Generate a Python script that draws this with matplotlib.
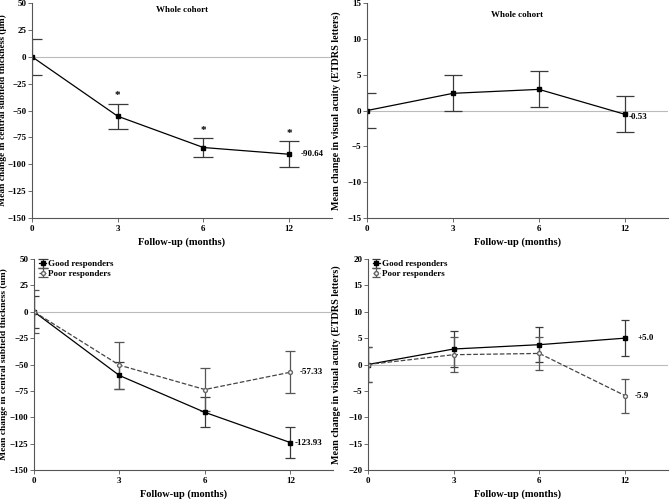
import matplotlib
matplotlib.use("Agg")
import matplotlib.pyplot as plt
import numpy as np

plt.rcParams['font.family'] = ['Liberation Serif', 'DejaVu Serif']
plt.rcParams['font.weight'] = 'bold'

timepoints = ["0", "3", "6", "12"]

# Whole cohort - CST
cst_mean = [0, -55.3, -84.4, -90.64]
cst_err = [16.5, 11.7, 9.0, 12.1]
# Whole cohort - VA
va_mean = [0, 2.4, 2.95, -0.53]
va_err = [2.5, 2.5, 2.5, 2.5]

# Responder groups - CST
cst_good = [0, -60.4, -95.3, -123.93]
cst_good_err = [15.3, 12.4, 14.3, 14.3]
cst_poor = [0, -50.6, -73.7, -57.33]
cst_poor_err = [20.3, 22.2, 20.0, 20.0]
# Responder groups - VA
va_good = [0, 2.94, 3.76, 5.0]
va_good_err = [3.3, 3.35, 3.3, 3.35]
va_poor = [0, 1.86, 2.1, -5.9]
va_poor_err = [3.3, 3.3, 3.2, 3.25]

xlabel = "Follow-up (months)"
cst_ylabel1 = "Mean change in central subfield thickness (\u03bcm)"
cst_ylabel2 = "Mean change in central subfield thickness (um)"
va_ylabel = "Mean change in visual acuity (ETDRS letters)"

fig = plt.figure(figsize=(6.70, 4.99), dpi=100)
ax1 = fig.add_axes([0.0478, 0.563, 0.4477, 0.431])
ax2 = fig.add_axes([0.5478, 0.563, 0.4492, 0.431])
ax3 = fig.add_axes([0.0507, 0.058, 0.4463, 0.423])
ax4 = fig.add_axes([0.549, 0.058, 0.448, 0.423])

x = np.arange(len(timepoints))
ecol = '#3a3a3a'
FS = 6.5

def style(ax, ylim, step, ylabel, labx, lfs):
    ax.set_xlim(0, 3.5)
    ax.set_ylim(*ylim)
    ax.set_yticks(np.arange(ylim[0], ylim[1] + step / 2, step))
    ax.set_xticks(x)
    ax.set_xticklabels(timepoints)
    for s in ['top', 'right']:
        ax.spines[s].set_visible(False)
    for s in ['left', 'bottom']:
        ax.spines[s].set_color('#555555')
        ax.spines[s].set_linewidth(0.8)
    ax.tick_params(labelsize=6.5, length=3, width=0.6, color='#555555', pad=2)
    ax.tick_params(axis='y', pad=1)
    for lab in ax.get_xticklabels() + ax.get_yticklabels():
        lab.set_fontweight('bold')
    ax.axhline(0, color='#bbbbbb', lw=0.8, zorder=0)
    ax.set_xlabel(xlabel, fontsize=7.5, fontweight='bold', labelpad=3)
    ax.set_ylabel(ylabel, fontsize=lfs, fontweight='bold')
    ax.yaxis.set_label_coords(labx, 0.5)

# Panel 1
style(ax1, (-150, 50), 25, cst_ylabel1, -0.083, 6.8)
ax1.errorbar(x, cst_mean, yerr=cst_err, color='black', lw=0.9, marker='s', ms=2.8,
             ecolor=ecol, elinewidth=0.9, capsize=7, capthick=0.9)
for i in range(1, 4):
    ax1.text(x[i], cst_mean[i] + cst_err[i] + 3, "*", ha='center', va='bottom', fontsize=8)
ax1.annotate("-90.64", (x[3], cst_mean[3]), xytext=(8, 0), textcoords='offset points',
             ha='left', va='center', fontsize=FS)
ax1.text(0.5, 0.985, "Whole cohort", transform=ax1.transAxes, ha='center', va='top', fontsize=FS)

# Panel 2
style(ax2, (-15, 15), 5, va_ylabel, -0.085, 7.3)
ax2.errorbar(x, va_mean, yerr=va_err, color='black', lw=0.9, marker='s', ms=2.8,
             ecolor=ecol, elinewidth=0.9, capsize=6.5, capthick=0.9)
ax2.annotate("-0.53", (x[3], va_mean[3]), xytext=(3, -2), textcoords='offset points',
             ha='left', va='center', fontsize=FS)
ax2.text(0.5, 0.965, "Whole cohort", transform=ax2.transAxes, ha='center', va='top', fontsize=FS)

# Panel 3
style(ax3, (-150, 50), 25, cst_ylabel2, -0.088, 6.8)
ax3.errorbar(x, cst_good, yerr=cst_good_err, color='black', lw=0.9, marker='s', ms=2.8,
             ecolor=ecol, elinewidth=0.9, capsize=3.5, capthick=0.9, label="Good responders")
ax3.errorbar(x, cst_poor, yerr=cst_poor_err, color='#444444', ls='--', lw=0.9, marker='o', ms=2.8,
             mfc='white', mec='#666666', ecolor='#555555', elinewidth=0.9, capsize=3.5, capthick=0.9,
             label="Poor responders")
ax3.annotate("-123.93", (x[3], cst_good[3]), xytext=(3, 0), textcoords='offset points',
             ha='left', va='center', fontsize=FS)
ax3.annotate("-57.33", (x[3], cst_poor[3]), xytext=(7, 0), textcoords='offset points',
             ha='left', va='center', fontsize=FS)
ax3.legend(loc='upper left', frameon=False, fontsize=FS, handlelength=0.7, handletextpad=0.3,
           borderaxespad=0.2, labelspacing=0.1, bbox_to_anchor=(0.0, 1.02))

# Panel 4
style(ax4, (-20, 20), 5, va_ylabel, -0.088, 7.3)
ax4.errorbar(x, va_good, yerr=va_good_err, color='black', lw=0.9, marker='s', ms=2.8,
             ecolor=ecol, elinewidth=0.9, capsize=3, capthick=0.9, label="Good responders")
ax4.errorbar(x, va_poor, yerr=va_poor_err, color='#444444', ls='--', lw=0.9, marker='o', ms=2.8,
             mfc='white', mec='#666666', ecolor='#555555', elinewidth=0.9, capsize=3, capthick=0.9,
             label="Poor responders")
ax4.annotate("+5.0", (x[3], va_good[3]), xytext=(9, 0), textcoords='offset points',
             ha='left', va='center', fontsize=FS)
ax4.annotate("-5.9", (x[3], va_poor[3]), xytext=(7, 0), textcoords='offset points',
             ha='left', va='center', fontsize=FS)
ax4.legend(loc='upper left', frameon=False, fontsize=FS, handlelength=0.7, handletextpad=0.3,
           borderaxespad=0.2, labelspacing=0.1, bbox_to_anchor=(0.0, 1.02))

fig.savefig("out.png", dpi=100)
